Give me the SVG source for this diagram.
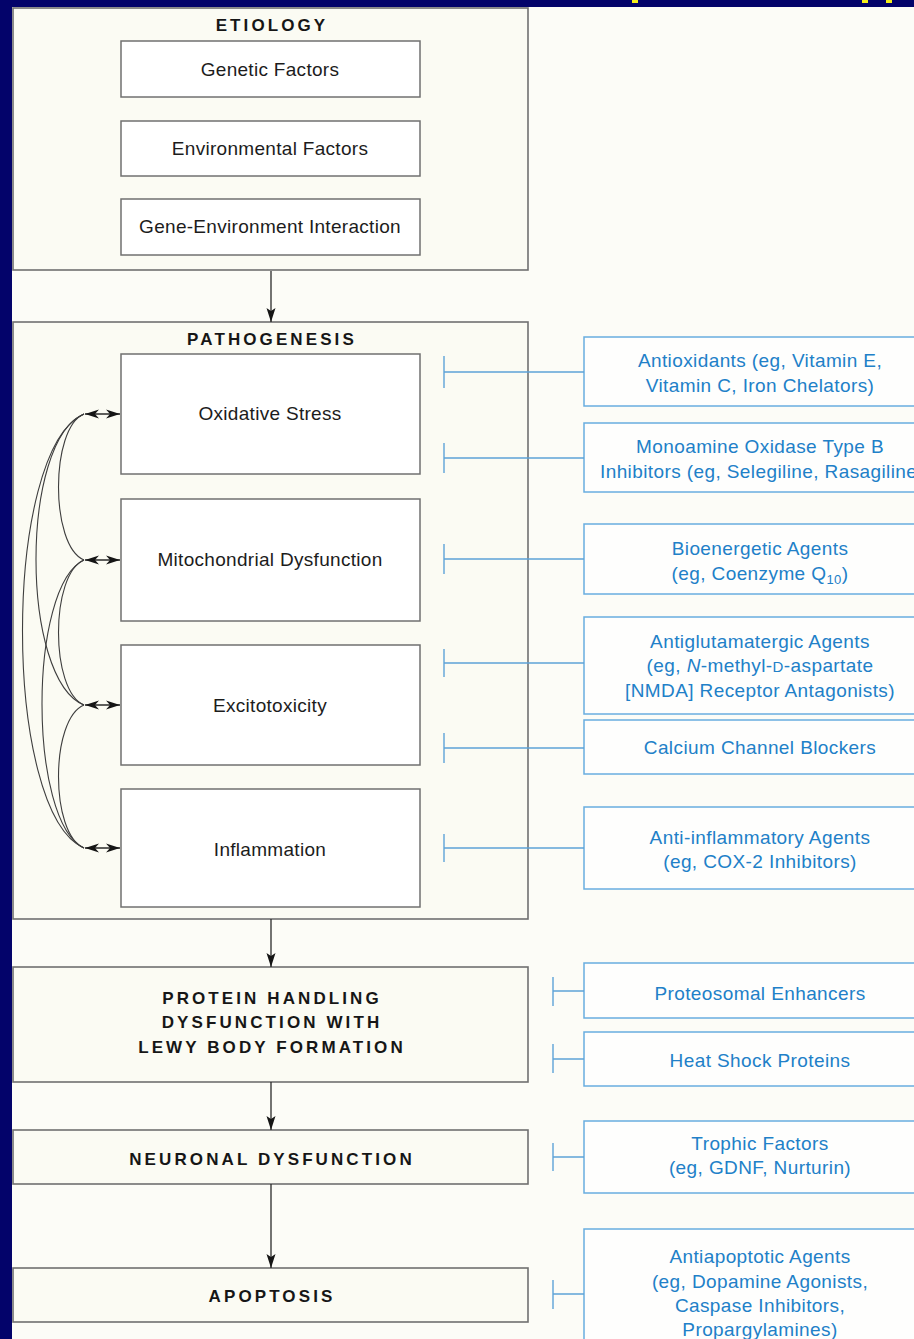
<svg xmlns="http://www.w3.org/2000/svg" width="914" height="1339" viewBox="0 0 914 1339">
<defs>
<style>
.bg{fill:#fcfcf7}
.outer{fill:#fbfbf3;stroke:#707070;stroke-width:1.6}
.inner{fill:#ffffff;stroke:#707070;stroke-width:1.5}
.blue{fill:#fefefd;stroke:#68ade0;stroke-width:1.5}
.t{font-family:"Liberation Sans",Arial,Helvetica,sans-serif;font-size:19px;letter-spacing:0.3px;fill:#1c1c1c;text-anchor:middle}
.h{font-family:"Liberation Sans",Arial,Helvetica,sans-serif;font-size:17px;font-weight:bold;letter-spacing:3.1px;fill:#161616;text-anchor:middle}
.b{font-family:"Liberation Sans",Arial,Helvetica,sans-serif;font-size:19px;letter-spacing:0.4px;fill:#2180c8;text-anchor:middle}
.arr{stroke:#2a2a2a;stroke-width:1.3;fill:none}
.curve{stroke:#3e3e3e;stroke-width:1.1;fill:none}
.inh{stroke:#5ea3d8;stroke-width:1.4;fill:none}
</style>
<marker id="ah" markerUnits="userSpaceOnUse" viewBox="0 -5 14 10" refX="14" refY="0" markerWidth="14" markerHeight="10" orient="auto">
<path d="M0,-4.5 L14,0 L0,4.5 L3,0 z" fill="#151515"/>
</marker>
<marker id="dh" markerUnits="userSpaceOnUse" viewBox="0 -5 14 10" refX="14" refY="0" markerWidth="14" markerHeight="10" orient="auto-start-reverse">
<path d="M0,-4.5 L14,0 L0,4.5 L4,0 z" fill="#151515"/>
</marker>
</defs>

<rect x="0" y="0" width="914" height="1339" fill="#03036a"/>
<rect class="bg" x="12" y="7" width="902" height="1332"/>
<rect x="632" y="0" width="6" height="3" fill="#f4ef1a"/>
<rect x="862" y="0" width="6" height="3" fill="#f4ef1a"/>
<rect x="886" y="0" width="6" height="3" fill="#f4ef1a"/>

<g id="etiology">
<rect class="outer" x="13" y="8" width="515" height="262"/>
<text class="h" x="272" y="31">ETIOLOGY</text>
</g>
<g id="genetic"><rect class="inner" x="121" y="41" width="299" height="56"/><text class="t" x="270" y="76">Genetic Factors</text></g>
<g id="environmental"><rect class="inner" x="121" y="121" width="299" height="55"/><text class="t" x="270" y="155">Environmental Factors</text></g>
<g id="gene-env"><rect class="inner" x="121" y="199" width="299" height="56"/><text class="t" x="270" y="233">Gene-Environment Interaction</text></g>

<g id="pathogenesis">
<rect class="outer" x="13" y="322" width="515" height="597"/>
<text class="h" x="272" y="345">PATHOGENESIS</text>
</g>
<g id="oxidative"><rect class="inner" x="121" y="354" width="299" height="120"/><text class="t" x="270" y="420">Oxidative Stress</text></g>
<g id="mito"><rect class="inner" x="121" y="499" width="299" height="122"/><text class="t" x="270" y="566">Mitochondrial Dysfunction</text></g>
<g id="excito"><rect class="inner" x="121" y="645" width="299" height="120"/><text class="t" x="270" y="712">Excitotoxicity</text></g>
<g id="inflammation"><rect class="inner" x="121" y="789" width="299" height="118"/><text class="t" x="270" y="856">Inflammation</text></g>

<g id="protein"><rect class="outer" x="13" y="967" width="515" height="115"/>
<text class="h" x="272" y="1004">PROTEIN HANDLING</text>
<text class="h" x="272" y="1028">DYSFUNCTION WITH</text>
<text class="h" x="272" y="1053">LEWY BODY FORMATION</text></g>
<g id="neuronal"><rect class="outer" x="13" y="1130" width="515" height="54"/><text class="h" x="272" y="1165">NEURONAL DYSFUNCTION</text></g>
<g id="apoptosis"><rect class="outer" x="13" y="1268" width="515" height="54"/><text class="h" x="272" y="1302">APOPTOSIS</text></g>

<g id="antioxidants"><rect class="blue" x="584" y="337" width="345" height="69"/>
<text class="b" x="760" y="367">Antioxidants (eg, Vitamin E,</text>
<text class="b" x="760" y="392">Vitamin C, Iron Chelators)</text></g>
<g id="maob"><rect class="blue" x="584" y="423" width="345" height="69"/>
<text class="b" x="760" y="453">Monoamine Oxidase Type B</text>
<text class="b" x="762" y="478">Inhibitors (eg, Selegiline, Rasagiline)</text></g>
<g id="bioenergetic"><rect class="blue" x="584" y="524" width="345" height="70"/>
<text class="b" x="760" y="555">Bioenergetic Agents</text>
<text class="b" x="760" y="580">(eg, Coenzyme Q<tspan font-size="13" dy="4">10</tspan><tspan dy="-4">)</tspan></text></g>
<g id="antiglutamatergic"><rect class="blue" x="584" y="617" width="345" height="97"/>
<text class="b" x="760" y="648">Antiglutamatergic Agents</text>
<text class="b" x="760" y="672">(eg, <tspan font-style="italic">N</tspan>-methyl-<tspan font-size="15">D</tspan>-aspartate</text>
<text class="b" x="760" y="697">[NMDA] Receptor Antagonists)</text></g>
<g id="calcium"><rect class="blue" x="584" y="720" width="345" height="54"/>
<text class="b" x="760" y="754">Calcium Channel Blockers</text></g>
<g id="antiinflammatory"><rect class="blue" x="584" y="807" width="345" height="82"/>
<text class="b" x="760" y="844">Anti-inflammatory Agents</text>
<text class="b" x="760" y="868">(eg, COX-2 Inhibitors)</text></g>
<g id="proteosomal"><rect class="blue" x="584" y="963" width="345" height="55"/>
<text class="b" x="760" y="1000">Proteosomal Enhancers</text></g>
<g id="heatshock"><rect class="blue" x="584" y="1032" width="345" height="54"/>
<text class="b" x="760" y="1067">Heat Shock Proteins</text></g>
<g id="trophic"><rect class="blue" x="584" y="1121" width="345" height="72"/>
<text class="b" x="760" y="1150">Trophic Factors</text>
<text class="b" x="760" y="1174">(eg, GDNF, Nurturin)</text></g>
<g id="antiapoptotic"><rect class="blue" x="584" y="1229" width="345" height="130"/>
<text class="b" x="760" y="1263">Antiapoptotic Agents</text>
<text class="b" x="760" y="1288">(eg, Dopamine Agonists,</text>
<text class="b" x="760" y="1312">Caspase Inhibitors,</text>
<text class="b" x="760" y="1336">Propargylamines)</text></g>

<g id="connectors">
<line class="arr" x1="271" y1="271" x2="271" y2="322" marker-end="url(#ah)"/>
<line class="arr" x1="271" y1="919" x2="271" y2="967" marker-end="url(#ah)"/>
<line class="arr" x1="271" y1="1082" x2="271" y2="1130" marker-end="url(#ah)"/>
<line class="arr" x1="271" y1="1184" x2="271" y2="1268" marker-end="url(#ah)"/>

<line class="arr" x1="85" y1="414" x2="120" y2="414" marker-start="url(#dh)" marker-end="url(#dh)"/>
<line class="arr" x1="85" y1="560" x2="120" y2="560" marker-start="url(#dh)" marker-end="url(#dh)"/>
<line class="arr" x1="85" y1="705" x2="120" y2="705" marker-start="url(#dh)" marker-end="url(#dh)"/>
<line class="arr" x1="85" y1="848" x2="120" y2="848" marker-start="url(#dh)" marker-end="url(#dh)"/>

<path class="curve" d="M84,414 C50,428 50,546 84,560"/>
<path class="curve" d="M84,560 C50,574 50,691 84,705"/>
<path class="curve" d="M84,705 C50,719 50,834 84,848"/>
<path class="curve" d="M84,414 C20,440 20,679 84,705"/>
<path class="curve" d="M84,560 C28,586 28,822 84,848"/>
<path class="curve" d="M84,414 C2,450 2,812 84,848"/>

<path class="inh" d="M444,356 V388 M444,372 H584"/>
<path class="inh" d="M444,443 V473 M444,458 H584"/>
<path class="inh" d="M444,544 V574 M444,559 H584"/>
<path class="inh" d="M444,649 V677 M444,663 H584"/>
<path class="inh" d="M444,733 V763 M444,748 H584"/>
<path class="inh" d="M444,834 V862 M444,848 H584"/>
<path class="inh" d="M553,977 V1006 M553,991 H584"/>
<path class="inh" d="M553,1044 V1073 M553,1059 H584"/>
<path class="inh" d="M553,1143 V1171 M553,1157 H584"/>
<path class="inh" d="M553,1280 V1309 M553,1294 H584"/>
</g>
</svg>
